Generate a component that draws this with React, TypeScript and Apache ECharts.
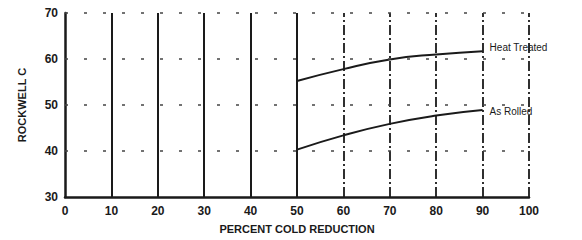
import React, { useEffect, useRef } from "react";
import * as echarts from "echarts";

const xValues = [50, 60, 70, 80, 90];
const heatTreated = [55.2, 57.8, 59.9, 61.0, 61.7];
const asRolled = [40.3, 43.4, 45.9, 47.7, 48.9];
const solidGridX = [10, 20, 30, 40, 50];
const dashedGridX = [60, 70, 80, 90, 100];
const dottedGridY = [40, 50, 60, 70];
const xTicks = [0, 10, 20, 30, 40, 50, 60, 70, 80, 90, 100];
const yTicks = [30, 40, 50, 60, 70];

export default function App() {
  const ref = useRef<HTMLDivElement>(null);
  useEffect(() => {
    const chart = echarts.init(ref.current!, null, { renderer: "svg" });
    const ink = "#1a1a1a";
    chart.setOption({
      animation: false,
      backgroundColor: "#ffffff",
      grid: { left: 65, right: 53, top: 13, bottom: 43 },
      xAxis: {
        type: "value",
        min: 0,
        max: 100,
        interval: 10,
        axisLine: { show: true, lineStyle: { color: ink, width: 2.5 } },
        axisTick: { show: false },
        splitLine: { show: false },
        axisLabel: {
          color: ink,
          fontFamily: "Liberation Sans",
          fontWeight: "bold",
          fontSize: 12,
          margin: 8,
          formatter: (v: number) => (xTicks.includes(v) ? String(v) : ""),
        },
        name: "PERCENT COLD REDUCTION",
        nameLocation: "middle",
        nameGap: 26,
        nameTextStyle: { color: ink, fontFamily: "Liberation Sans", fontWeight: "bold", fontSize: 11 },
      },
      yAxis: {
        type: "value",
        min: 30,
        max: 70,
        interval: 10,
        axisLine: { show: true, lineStyle: { color: ink, width: 2.5 } },
        axisTick: { show: false },
        splitLine: { show: false },
        axisLabel: {
          color: ink,
          fontFamily: "Liberation Sans",
          fontWeight: "bold",
          fontSize: 12,
          margin: 7,
          formatter: (v: number) => (yTicks.includes(v) ? String(v) : ""),
        },
        name: "ROCKWELL C",
        nameLocation: "middle",
        nameGap: 38,
        nameTextStyle: { color: ink, fontFamily: "Liberation Sans", fontWeight: "bold", fontSize: 11 },
      },
      series: [
        {
          type: "line",
          data: xValues.map((x, i) => [x, heatTreated[i]]),
          smooth: true,
          symbol: "none",
          lineStyle: { color: ink, width: 2 },
          endLabel: {
            show: true,
            formatter: "Heat Treated",
            color: ink,
            fontFamily: "Liberation Sans",
            fontSize: 10,
            distance: 7,
            offset: [0, -4],
          },
          markLine: {
            silent: true,
            symbol: "none",
            label: { show: false },
            data: [
              ...solidGridX.map((x) => ({ xAxis: x, lineStyle: { color: ink, width: 2, type: "solid" } })),
              ...dashedGridX.map((x) => ({ xAxis: x, lineStyle: { color: ink, width: 1.8, type: [10, 3, 2, 3] } })),
              ...dottedGridY.map((y) => ({ yAxis: y, lineStyle: { color: "#444", width: 1.5, type: [3, 16] } })),
            ],
          },
        },
        {
          type: "line",
          data: xValues.map((x, i) => [x, asRolled[i]]),
          smooth: true,
          symbol: "none",
          lineStyle: { color: ink, width: 2 },
          endLabel: {
            show: true,
            formatter: "As Rolled",
            color: ink,
            fontFamily: "Liberation Sans",
            fontSize: 10,
            distance: 7,
            offset: [0, 1],
          },
        },
      ],
    });
    return () => chart.dispose();
  }, []);
  return <div ref={ref} style={{ width: 582, height: 240, position: "absolute", left: 0, top: 0 }} />;
}
